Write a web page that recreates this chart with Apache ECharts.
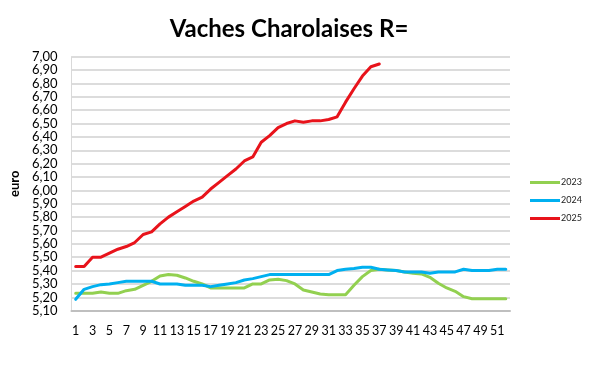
<!DOCTYPE html>
<html>
<head>
<meta charset="utf-8">
<script src="https://cdn.jsdelivr.net/npm/echarts@6/dist/echarts.min.js"></script>
<style>html,body{margin:0;padding:0;background:#fff}#c{width:600px;height:365px}</style>
</head>
<body>
<div id="c"></div>
<script>
var weeks = [];
for (var i = 1; i <= 52; i++) weeks.push(String(i));

var s2023 = [5.23,5.23,5.23,5.24,5.23,5.23,5.25,5.26,5.29,5.32,5.36,5.37,5.365,5.345,5.32,5.30,5.27,5.27,5.27,5.27,5.27,5.30,5.30,5.33,5.335,5.325,5.30,5.255,5.24,5.225,5.22,5.22,5.22,5.29,5.355,5.40,5.41,5.405,5.40,5.39,5.38,5.375,5.35,5.305,5.27,5.245,5.205,5.19,5.19,5.19,5.19,5.19];
var s2024 = [5.185,5.26,5.28,5.295,5.30,5.31,5.32,5.32,5.32,5.32,5.30,5.30,5.30,5.29,5.29,5.29,5.28,5.29,5.30,5.31,5.33,5.34,5.355,5.37,5.37,5.37,5.37,5.37,5.37,5.37,5.37,5.40,5.41,5.415,5.425,5.425,5.41,5.405,5.40,5.39,5.39,5.39,5.38,5.39,5.39,5.39,5.41,5.40,5.40,5.40,5.41,5.41];
var s2025 = [5.43,5.43,5.50,5.50,5.53,5.56,5.58,5.61,5.67,5.69,5.75,5.80,5.84,5.88,5.92,5.95,6.01,6.06,6.11,6.16,6.22,6.25,6.36,6.41,6.47,6.50,6.52,6.51,6.52,6.52,6.53,6.55,6.66,6.76,6.855,6.925,6.945];

var chart = echarts.init(document.getElementById('c'), null, {renderer: 'canvas'});
var font = 'Lato, "Open Sans", sans-serif';
function ser(name, data, color) {
  return {name: name, type: 'line', data: data, symbol: 'none', smooth: false,
    lineStyle: {width: 3, color: color, cap: 'round', join: 'round'}, itemStyle: {color: color}};
}
chart.setOption({
  animation: false,
  title: {text: 'Vaches Charolaises R=', left: 284, textAlign: 'center', top: 12,
    textStyle: {fontFamily: font, fontWeight: 'bold', fontSize: 24, color: '#000'}},
  grid: {left: 67, right: 90, top: 56.7, bottom: 54.3},
  legend: {orient: 'vertical', left: 525, top: 173, itemWidth: 30, itemHeight: 3, itemGap: 9,
    icon: 'rect', textStyle: {fontFamily: font, fontSize: 9, color: '#222', padding: [0,0,0,-4]},
    data: ['2023','2024','2025']},
  xAxis: {type: 'category', data: weeks, boundaryGap: true,
    axisLine: {show: true, lineStyle: {color: '#bfbfbf', width: 2}},
    axisTick: {show: false},
    axisLabel: {interval: 1, margin: 14, fontFamily: font, fontSize: 12.5, color: '#000'},
    splitLine: {show: false}},
  yAxis: {type: 'value', min: 5.1, max: 7.0, interval: 0.1,
    name: 'euro', nameLocation: 'middle', nameGap: 50, nameRotate: 90,
    nameTextStyle: {fontFamily: font, fontWeight: 'bold', fontSize: 13, color: '#000'},
    axisLine: {show: true, lineStyle: {color: '#d9d9d9', width: 1}},
    axisTick: {show: false},
    axisLabel: {margin: 14, fontFamily: font, fontSize: 13, color: '#000',
      formatter: function (v) { return v.toFixed(2).replace('.', ','); }},
    splitLine: {show: true, lineStyle: {color: '#d0d0d0', width: 1.5}}},
  series: [ser('2023', s2023, '#92d050'), ser('2024', s2024, '#00b0f0'), ser('2025', s2025, '#e8131b')]
});
</script>
</body>
</html>
